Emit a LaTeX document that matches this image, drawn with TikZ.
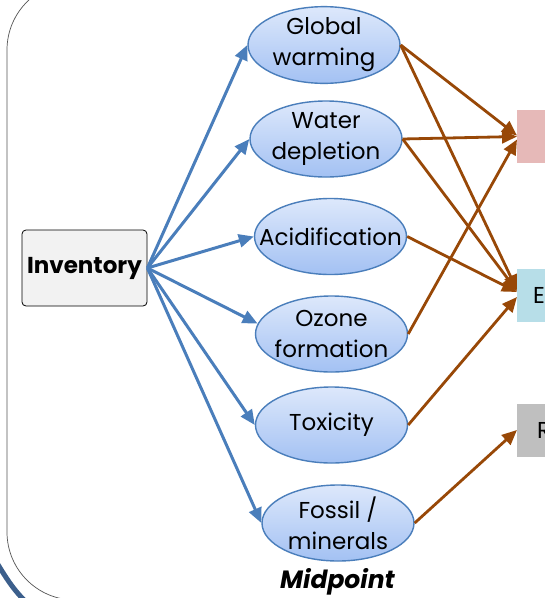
\documentclass[tikz,border=0pt]{standalone}
\usepackage{fontspec}
\setmainfont{Poppins}
\usetikzlibrary{arrows.meta,shapes.geometric}
\definecolor{ellborder}{HTML}{4A7EBB}
\definecolor{elltop}{HTML}{DDE8FB}
\definecolor{ellbot}{HTML}{A3C1F3}
\definecolor{bluearrow}{HTML}{4A7EBB}
\definecolor{brownarrow}{HTML}{984807}
\definecolor{pinkbox}{HTML}{E6B9B8}
\definecolor{bluebox}{HTML}{B7DEE8}
\definecolor{graybox}{HTML}{BFBFBF}
\definecolor{invfill}{HTML}{F2F2F2}
\definecolor{framecol}{HTML}{555555}
\definecolor{darkarc}{HTML}{3C5F8C}
\newcommand{\zbx}[1]{\makebox[0pt]{#1}}
\tikzset{
  midell/.style={ellipse, draw=ellborder, line width=1.4pt, top color=elltop, bottom color=ellbot,
    minimum width=152pt, minimum height=76pt, inner sep=0pt, align=center,
    font=\fontsize{23}{31}\selectfont},
  invbox/.style={draw=black, line width=0.8pt, fill=invfill, rounded corners=4pt,
    minimum width=125pt, minimum height=76pt, inner sep=0pt, font=\fontsize{23}{26}\selectfont\bfseries},
  endbox/.style={rectangle, minimum height=53pt, anchor=west, align=left, inner ysep=0pt,
    font=\fontsize{23}{26}\selectfont},
  bluearr/.style={draw=bluearrow, line width=3pt, -{Triangle[length=15pt,width=13pt]}},
  brownarr/.style={draw=brownarrow, line width=2.8pt, -{Triangle[length=15pt,width=13pt]}},
}
\begin{document}
\begin{tikzpicture}[x=1pt,y=-1pt]
\path[use as bounding box, clip] (0,0) rectangle (545,598);
\fill[white] (0,0) rectangle (545,598);
% frame
\draw[framecol, line width=0.7pt, rounded corners=68pt] (7,-18) rectangle (640,600);
\draw[darkarc, line width=5pt] (-3,563) .. controls (5,576) and (12,588) .. (25,601);
% nodes
\node[invbox] (inv) at (84.5,268) {Inventory};
\node[midell] (gw) at (324,45) {\zbx{Global}\\\zbx{warming}};
\node[midell] (wd) at (326,139) {\zbx{Water}\\\zbx{depletion}};
\node[midell] (ac) at (330.5,236.5) {\zbx{Acidification}};
\node[midell] (oz) at (331.5,334) {\zbx{Ozone}\\\zbx{formation}};
\node[midell] (tx) at (331.5,425) {\zbx{Toxicity}};
\node[midell] (fm) at (338,523) {\zbx{Fossil /}\\\zbx{minerals}};
\node[font=\fontsize{25}{28}\selectfont\bfseries\itshape] (mid) at (337.5,582) {Midpoint};
\node[endbox, fill=pinkbox, minimum width=60pt, inner xsep=0pt] (hh) at (517,136.5) {};
\node[endbox, fill=bluebox, text width=28pt, inner xsep=16pt] (eq) at (517,295) {E};
\node[endbox, fill=graybox, text width=20pt, inner xsep=20pt] (rs) at (517,430) {R};
% blue arrows
\draw[bluearr] (inv.east) -- (gw.west);
\draw[bluearr] (inv.east) -- (wd.west);
\draw[bluearr] (inv.east) -- (ac.west);
\draw[bluearr] (inv.east) -- (oz.172);
\draw[bluearr] (inv.east) -- (tx.west);
\draw[bluearr] (inv.east) -- (fm.west);
% brown arrows
\draw[brownarr] (gw.east) -- ([yshift=1pt]hh.west);
\draw[brownarr] (gw.east) -- ([yshift=5pt]eq.west);
\draw[brownarr] (wd.east) -- (hh.west);
\draw[brownarr] (wd.east) -- ([yshift=4pt]eq.west);
\draw[brownarr] (ac.east) -- ([yshift=3pt]eq.west);
\draw[brownarr] (oz.east) -- ([yshift=-3pt]hh.west);
\draw[brownarr] (tx.east) -- ([yshift=-2pt]eq.west);
\draw[brownarr] (fm.east) -- (rs.west);
\end{tikzpicture}
\end{document}
